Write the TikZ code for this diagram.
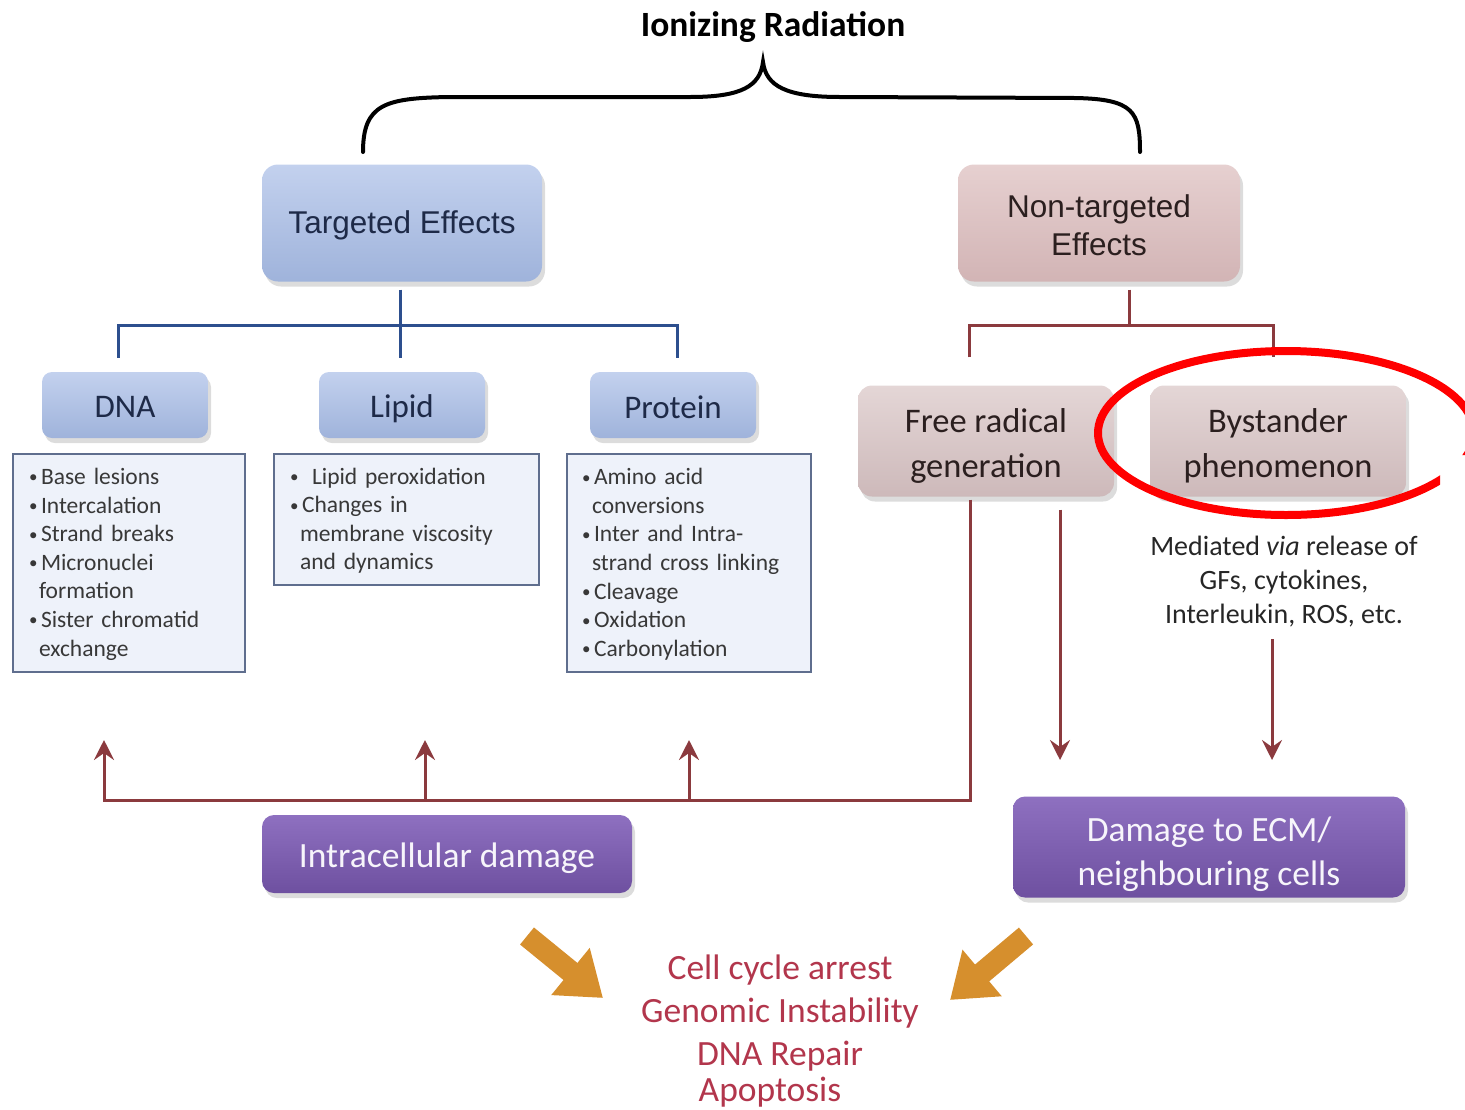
\documentclass[tikz,border=0pt]{standalone}
\usepackage{fontspec}
\setmainfont{Carlito}
\newfontfamily\arialf{Liberation Sans}
\usetikzlibrary{arrows.meta,shadows,calc}
\definecolor{bluetop}{HTML}{C3D1EE}
\definecolor{bluebot}{HTML}{9FB3DB}
\definecolor{pinktop}{HTML}{E6D0D0}
\definecolor{pinkbot}{HTML}{D2B4B5}
\definecolor{greytop}{HTML}{E4D6D6}
\definecolor{greybot}{HTML}{CDB9BA}
\definecolor{purtop}{HTML}{8E70C0}
\definecolor{purbot}{HTML}{6E50A0}
\definecolor{listfill}{HTML}{EEF2FA}
\definecolor{listdraw}{HTML}{5F6E8E}
\definecolor{navytxt}{HTML}{1E2A48}
\definecolor{browntxt}{HTML}{2B1F1F}
\definecolor{blueline}{HTML}{2D4F8E}
\definecolor{redline}{HTML}{8B3A3E}
\definecolor{orangearr}{HTML}{D68F2D}
\definecolor{outcome}{HTML}{B2364C}
\definecolor{listtxt}{HTML}{383838}
\newcommand\blt{\raisebox{1.5pt}{\fontsize{17}{17}\selectfont\textbullet}}
\newcommand\itm[1]{\par\hangindent=10pt\hangafter=1\noindent\makebox[12pt][l]{\blt}#1}
\newcommand\dn[2]{\raisebox{-#1}[\height][\depth]{#2}}
\begin{document}
\begin{tikzpicture}[x=1pt,y=-1pt,
  shad/.style={drop shadow={opacity=0.28,shadow xshift=3pt,shadow yshift=-5pt}},
  bigblue/.style={shad,rounded corners=16pt,top color=bluetop,bottom color=bluebot,draw=none,text=navytxt,align=center},
  bigpink/.style={shad,rounded corners=16pt,top color=pinktop,bottom color=pinkbot,draw=none,text=browntxt,align=center},
  smallblue/.style={shad,rounded corners=10pt,top color=bluetop,bottom color=bluebot,draw=none,text=navytxt,
     minimum width=166pt,minimum height=66pt,font=\fontsize{33}{36}\selectfont},
  greybox/.style={shad,rounded corners=14pt,top color=greytop,bottom color=greybot,draw=none,text=browntxt,
     minimum width=256pt,minimum height=111pt,align=center,font=\fontsize{34.5}{45}\selectfont},
  purbox/.style={shad,rounded corners=12pt,top color=purtop,bottom color=purbot,draw=none,text=white!93!purtop,
     align=center,font=\fontsize{35.5}{44}\selectfont},
  listbox/.style={draw=listdraw,line width=2pt,fill=listfill,anchor=north west,inner xsep=16pt,inner ysep=0pt,
     text=listtxt,align=left,font=\fontsize{23.5}{28.6}\selectfont},
  bl/.style={draw=blueline,line width=3pt},
  rl/.style={draw=redline,line width=3pt},
  ra/.style={draw=redline,line width=3pt,-{Stealth[length=20pt,width=20pt,inset=7pt]}},
  oa/.style={draw=orangearr,line width=22pt,-{Triangle[length=42pt,width=58pt]}}
]
\useasboundingbox (0,0) rectangle (1465,1109);
% title
\node (title) at (773,27) {\fontsize{35.5}{40}\selectfont\bfseries Ionizing Radiation};
% brace
\draw[line width=4pt,line cap=round] (363,152) .. controls (363,104) and (385,98) .. (450,97)
   -- (690,97) .. controls (742,97) and (760,86) .. (763,62)
   .. controls (766,86) and (786,97) .. (840,97)
   -- (1075,98) .. controls (1134,99) and (1140,112) .. (1140,152);
% top boxes
\node[bigblue,minimum width=280pt,minimum height=117pt,font=\arialf\fontsize{31.5}{38}\selectfont] (tgt) at (402,223)
   {\dn{2pt}{Targeted Effects}};
\node[bigpink,minimum width=282pt,minimum height=117pt,font=\arialf\fontsize{31.5}{38}\selectfont] (nt) at (1099,223)
   {\dn{2pt}{Non-targeted}\\\dn{2pt}{Effects}};
% second level
\node[smallblue] (dna) at (125,405) {\dn{2pt}{DNA}};
\node[smallblue] (lipid) at (402,405) {\dn{4pt}{Lipid}};
\node[smallblue] (protein) at (673,405) {\dn{2pt}{Protein}};
\node[greybox] (fr) at (986,441) {\dn{5pt}{Free radical}\\\dn{5pt}{generation}};
\node[greybox] (by) at (1278,441) {\dn{5pt}{Bystander}\\\dn{5pt}{phenomenon}};
% lists
\node[listbox,text width=200pt,minimum height=218pt] (dnal) at (12,453)
  {\vspace*{-10pt}\itm{Base lesions}\itm{Intercalation}\itm{Strand breaks}\itm{Micronuclei\newline formation}\itm{Sister chromatid\newline exchange}\par};
\node[listbox,text width=233pt,minimum height=131pt] (lipl) at (273,453)
  {\vspace*{-10pt}\par\noindent\makebox[22pt][l]{\blt}Lipid peroxidation\itm{Changes in\newline membrane viscosity\newline and dynamics}\par};
\node[listbox,text width=214pt,minimum height=218pt,inner xsep=15pt] (protl) at (566,453)
  {\vspace*{-10pt}\itm{Amino acid\newline conversions}\itm{Inter and Intra-\newline strand cross linking}\itm{Cleavage}\itm{Oxidation}\itm{Carbonylation}\par};
% mediated text
\node[align=center,text=black!85,font=\fontsize{28}{34}\selectfont] (med) at (1284,582)
  {Mediated \textit{via} release of\\GFs, cytokines,\\Interleukin, ROS, etc.};
% bottom boxes
\node[purbox,minimum width=370pt,minimum height=78pt] (intra) at (447,854) {\dn{4pt}{Intracellular damage}};
\node[purbox,minimum width=392pt,minimum height=101pt] (ecm) at (1209,847) {\dn{7pt}{Damage to ECM/}\\\dn{7pt}{neighbouring cells}};
% outcome
\node[align=center,text=outcome,font=\fontsize{35.5}{43}\selectfont] (out) at (780,1031)
  {Cell cycle arrest\\Genomic Instability\\DNA Repair\\[-7pt]\hspace*{-20pt}Apoptosis};
% blue connectors
\coordinate (bj) at (400,325);
\draw[bl] ([xshift=-2pt,yshift=-8pt]tgt.south) -- ([xshift=-2pt,yshift=14pt]lipid.north);
\draw[bl] ([xshift=-7pt,yshift=14pt]dna.north) |- (bj) -| ([xshift=4pt,yshift=14pt]protein.north);
% red connectors
\coordinate (rj) at (1129,325);
\draw[rl] ([xshift=30pt,yshift=-8pt]nt.south) -- (rj);
\draw[rl] ([xshift=-17pt,yshift=28pt]fr.north) |- (rj) -| ([xshift=-5pt,yshift=28pt]by.north);
% lower feedback
\coordinate (c1) at (104,800);
\coordinate (c2) at (425,800);
\coordinate (c3) at (689,800);
\coordinate (t1) at (104,740);
\coordinate (t2) at (425,740);
\coordinate (t3) at (689,740);
\draw[rl] ([xshift=-16pt,yshift=-3pt]fr.south) |- ([xshift=-1.5pt]c1);
\draw[ra] (c1) -- (t1);
\draw[ra] (c2) -- (t2);
\draw[ra] (c3) -- (t3);
\coordinate (t4) at (1060,760);
\coordinate (t5) at (1272,760);
\draw[ra] ([xshift=74pt,yshift=-13pt]fr.south) -- (t4);
\draw[ra] ([xshift=-12pt,yshift=-8pt]med.south) -- (t5);
% red ellipse
\begin{scope}
\clip (1080,330) rectangle (1465,455) (1080,455) rectangle (1440,530);
\draw[red,line width=8pt] (1286,433) ellipse [x radius=188, y radius=82];
\end{scope}
% orange arrows
\coordinate (o1s) at (527,936);
\coordinate (o1e) at (603,998);
\coordinate (o2s) at (1026,936);
\coordinate (o2e) at (950,1000);
\draw[oa] (o1s) -- (o1e);
\draw[oa] (o2s) -- (o2e);
\end{tikzpicture}
\end{document}
